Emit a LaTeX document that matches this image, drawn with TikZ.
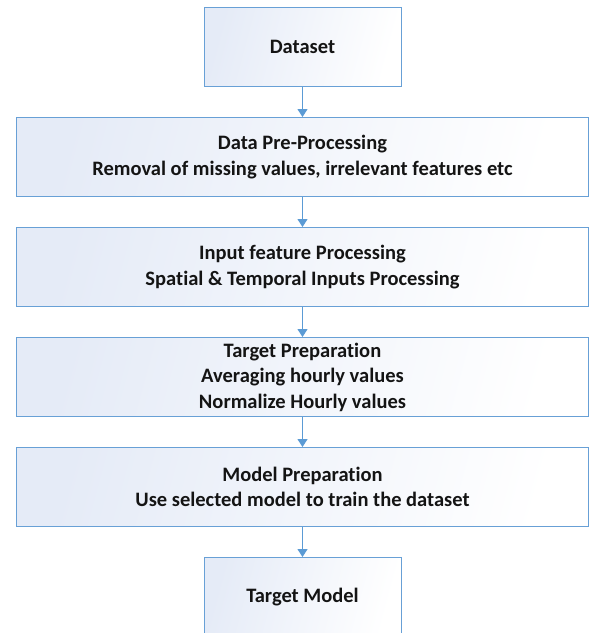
\documentclass[tikz,border=0pt]{standalone}
\usepackage{fontspec}
\setmainfont[Ligatures=NoCommon]{Carlito}
\usetikzlibrary{positioning,arrows.meta}

\definecolor{edgeblue}{RGB}{104,160,214}
\definecolor{arrowblue}{RGB}{91,155,213}
\definecolor{boxtint}{RGB}{229,235,247}
\definecolor{textdark}{RGB}{20,20,20}

\tikzset{
	stage/.style={draw=edgeblue, line width=1pt, left color=boxtint, right color=white,
		shading angle=75, minimum width=572pt, minimum height=79pt, inner sep=0pt,
		align=center, text=textdark, font=\bfseries\fontsize{20.5}{25.5}\selectfont},
	endbox/.style={stage, minimum width=197pt},
	flowarrow/.style={draw=arrowblue, line width=1.2pt,
		-{Triangle[length=8pt,width=10pt,fill=arrowblue]}}
}

\begin{document}
\begin{tikzpicture}[x=1pt,y=1pt]
	%set the page to 590 x 633
	\useasboundingbox (0,0) rectangle (590,-633);

	% Boxes
	\node[endbox] (dataset) at (302.5,-47) {Dataset};
	\node[stage, below=30pt of dataset] (preproc) {Data Pre-Processing\\Removal of missing values, irrelevant features etc};
	\node[stage, below=30pt of preproc] (inputs) {Input feature Processing\\Spatial \& Temporal Inputs Processing};
	\node[stage, below=30pt of inputs] (target) {Target Preparation\\Averaging hourly values\\Normalize Hourly values};
	\node[stage, below=30pt of target] (modelprep) {Model Preparation\\Use selected model to train the dataset};
	\node[endbox, below=30pt of modelprep] (final) {Target Model};

	% Arrows
	\draw[flowarrow] (dataset) -- (preproc);
	\draw[flowarrow] (preproc) -- (inputs);
	\draw[flowarrow] (inputs) -- (target);
	\draw[flowarrow] (target) -- (modelprep);
	\draw[flowarrow] (modelprep) -- (final);
\end{tikzpicture}
\end{document}
